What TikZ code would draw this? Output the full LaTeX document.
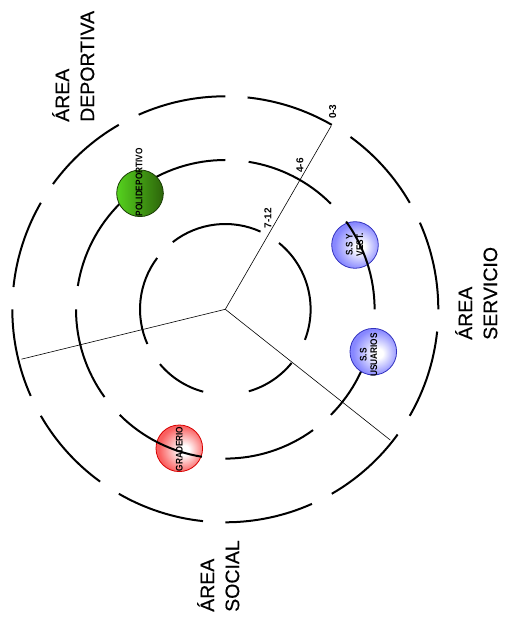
\documentclass[tikz,border=0pt]{standalone}
\usepackage{fontspec}
\setmainfont{Liberation Sans}
\usetikzlibrary{calc}
\definecolor{bluec}{RGB}{135,135,255}
\definecolor{blueb}{RGB}{50,50,190}
\definecolor{redc}{RGB}{250,95,95}
\definecolor{redb}{RGB}{215,0,0}
\definecolor{greenL}{RGB}{85,210,30}
\definecolor{greenR}{RGB}{45,100,10}
\definecolor{greenb}{RGB}{25,60,5}
\pgfdeclareradialshading{blueshade}{\pgfpoint{6bp}{-2bp}}{color(0bp)=(white); color(5bp)=(white); color(25bp)=(bluec); color(50bp)=(bluec)}
\pgfdeclareradialshading{redshade}{\pgfpoint{6bp}{-2bp}}{color(0bp)=(white); color(5bp)=(white); color(25bp)=(redc); color(50bp)=(redc)}
\begin{document}
\begin{tikzpicture}[x=1pt,y=1pt,
  ring/.style={line width=2pt},
  spoke/.style={line width=0.6pt},
  zone/.style={circle, minimum size=46.6pt, inner sep=0pt, line width=0.8pt},
  zonetext/.style={rotate=90, xscale=0.86, align=center, inner sep=0pt, font=\bfseries\fontsize{9.6}{10.5}\selectfont},
  ranklabel/.style={rotate=90, anchor=west, inner sep=0pt, font=\bfseries\fontsize{10}{12}\selectfont},
  arealabel/.style={rotate=90, anchor=north west, align=left, inner sep=0pt, font=\addfontfeature{FakeBold=0.4}\fontsize{19.5}{25}\selectfont}]
\useasboundingbox (0,0) rectangle (507,624);
\coordinate (C) at (225.3,314.7);
% zones drawn under the rings
\node[zone, shading=blueshade, draw=blueb] (ssv) at (355,379) {};
\node[zone, shading=redshade, draw=redb] (grad) at (179.3,175.7) {};
% outer ring 0-3
\foreach \a in {0,30,...,330}
  \draw[ring] (C) ++(\a:213pt) arc[start angle=\a, delta angle=24, radius=213pt];
% middle ring 4-6
\foreach \a in {0,45,...,315}
  \draw[ring] (C) ++(\a:149.3pt) arc[start angle=\a, delta angle=36, radius=149.3pt];
% inner ring 7-12
\foreach \a/\b in {65.6/128,143/204,220/255,286/321,339/411}
  \draw[ring] (C) ++(\a:85.3pt) arc[start angle=\a, end angle=\b, radius=85.3pt];
% spokes
\path (C) ++(60:212pt) coordinate (s1);
\path (C) ++(193.75:210pt) coordinate (s2);
\path (C) ++(321.6:210.5pt) coordinate (s3);
\path (C) ++(60:149.3pt) coordinate (m1);
\path (C) ++(60:85.3pt) coordinate (i1);
\draw[spoke] (C) -- (s1);
\draw[spoke] (C) -- (s2);
\draw[spoke] (C) -- (s3);
% zones drawn over the rings
\node[zone, left color=greenL, right color=greenR, draw=greenb] (poli) at (140,430.7) {};
\node[zone, shading=blueshade, draw=blueb] (ssu) at (373.3,272.3) {};
% zone texts
\node[zonetext] (tpoli) at (139,441.7) {POLIDEPORTIVO};
\node[zonetext] (tssv) at (354.5,379) {S.S Y\\VEST.};
\node[zonetext] (tssu) at (368.5,269) {S.S\\USUARIOS};
\node[zonetext] (tgrad) at (179.3,175) {GRADERIO};
% ring labels
\node[ranklabel] (l03) at ($(s1)+(1.5,6.5)$) {0-3};
\node[ranklabel] (l46) at ($(m1)+(0,7)$) {4-6};
\node[ranklabel] (l712) at ($(i1)+(0,7)$) {7-12};
% area labels
\node[arealabel] (adep) at (52,502) {ÁREA\\DEPORTIVA};
\node[arealabel] (aser) at (455,284) {ÁREA\\SERVICIO};
\node[arealabel] (asoc) at (197,12) {ÁREA\\SOCIAL};
\end{tikzpicture}
\end{document}
